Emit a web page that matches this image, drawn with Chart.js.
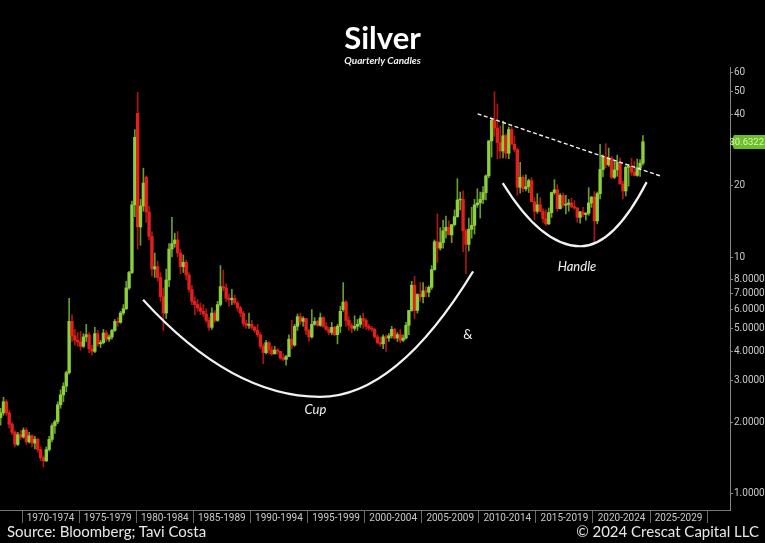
<!DOCTYPE html>
<html>
<head>
<meta charset="utf-8">
<script src="https://cdn.jsdelivr.net/npm/chart.js@4.4.1/dist/chart.umd.min.js"></script>
<style>
  html, body { margin: 0; padding: 0; background: #000; }
  #wrap { position: relative; width: 765px; height: 543px; background: #000; }
  .foot { position: absolute; color: #e8e8e8; font: 15px Lato, "Open Sans", sans-serif; top: 522px; }
  #src { left: 7px; }
  #copy { right: 6px; }
</style>
</head>
<body>
<div id="wrap">
  <canvas id="cnv"></canvas>
  <div class="foot" id="src">Source: Bloomberg; Tavi Costa</div>
  <div class="foot" id="copy">© 2024 Crescat Capital LLC</div>
</div>
<script>
// quarterly candles, first one is 1968 Q1
const startYear = 1968;

const open = [
  2.10, 2.20, 2.45, 2.20,   1.97, 1.82, 1.62, 1.78,   1.74, 1.86, 1.66, 1.76,   1.64, 1.70, 1.54, 1.42,
  1.38, 1.54, 1.70, 1.94,   2.02, 2.38, 2.62, 2.85,   3.25, 5.35, 4.65, 4.45,   4.38, 4.20, 4.60, 4.70,
  4.10, 4.00, 4.75, 4.30,   4.35, 4.78, 4.50, 4.60,   4.90, 5.35, 5.30, 5.80,   6.05, 7.40, 8.60, 16.60,
  40.40, 13.40, 16.40, 21.70,   15.50, 12.20, 8.90, 9.10,   8.20, 6.80, 5.80, 8.00,   10.80, 11.40, 11.80, 10.40,
  9.10, 9.50, 8.40, 7.30,   6.50, 6.30, 6.10, 5.90,   5.75, 5.40, 5.05, 5.80,   5.40, 6.30, 7.50, 7.40,
  6.70, 6.60, 6.70, 6.40,   6.10, 5.80, 5.25, 5.15,   5.20, 5.05, 4.90, 4.70,   4.20, 3.95, 4.35, 4.05,
  3.90, 4.05, 4.00, 3.75,   3.70, 3.80, 4.50, 4.25,   5.10, 5.60, 5.35, 5.50,   4.90, 4.60, 5.20, 5.35,
  5.15, 5.55, 5.10, 4.95,   4.80, 5.05, 4.70, 5.10,   6.00, 6.45, 5.40, 5.15,   5.00, 5.10, 5.20, 5.50,
  5.40, 5.10, 5.00, 4.95,   4.60, 4.35, 4.30, 4.60,   4.55, 4.65, 4.95, 4.55,   4.70, 4.45, 4.55, 5.15,
  5.95, 7.60, 5.95, 6.95,   6.80, 7.20, 7.10, 7.45,   8.85, 11.60, 10.90, 11.50,   12.90, 13.35, 12.40, 13.70,
  14.80, 17.40, 17.50, 12.90,   11.30, 13.10, 13.60, 16.60,   16.90, 17.50, 18.70, 22.00,   30.90, 37.80, 35.00, 30.40,
  28.00, 32.50, 27.40, 34.50,   29.90, 28.40, 19.70, 21.70,   19.40, 19.80, 21.00, 17.10,   15.60, 16.60, 15.60, 14.50,
  13.80, 15.40, 18.70, 19.20,   16.00, 18.20, 16.55, 16.65,   16.90, 16.30, 16.10, 14.70,   15.50, 15.10, 15.30, 16.90,
  17.90, 14.20, 18.50, 23.40,   26.40, 24.50, 26.10, 21.70,   23.30, 25.10, 20.30, 19.00,   23.90, 24.10, 22.80, 22.10,
  23.80, 24.90
];
const high = [
  2.30, 2.56, 2.50, 2.25,   2.00, 1.85, 1.82, 1.85,   1.90, 1.90, 1.82, 1.78,   1.75, 1.72, 1.58, 1.45,
  1.58, 1.75, 1.98, 2.05,   2.45, 2.75, 2.95, 3.30,   6.70, 5.70, 4.95, 4.80,   4.85, 4.75, 5.20, 4.80,
  4.25, 5.05, 4.90, 4.45,   4.95, 4.90, 4.70, 4.95,   5.45, 5.55, 5.90, 6.30,   7.90, 8.70, 17.20, 34.50,
  49.45, 17.50, 23.70, 22.00,   16.40, 12.80, 10.40, 9.60,   8.60, 7.40, 8.90, 11.40,   14.70, 12.60, 12.80, 10.80,
  10.20, 9.70, 8.60, 7.60,   6.80, 6.60, 6.40, 6.30,   6.05, 5.55, 6.10, 5.95,   6.50, 9.20, 8.80, 7.70,
  7.00, 7.30, 6.90, 6.50,   6.20, 5.90, 5.40, 5.80,   5.40, 5.10, 5.20, 4.80,   4.30, 4.45, 4.40, 4.20,
  4.20, 4.10, 4.00, 3.90,   3.85, 4.70, 5.40, 5.20,   5.75, 5.80, 5.60, 5.50,   4.95, 6.00, 5.55, 5.40,
  5.80, 5.60, 5.30, 5.05,   5.30, 5.10, 5.20, 6.20,   7.80, 6.55, 5.60, 5.25,   5.65, 5.45, 5.65, 5.80,
  5.50, 5.20, 5.10, 5.00,   4.70, 4.60, 4.70, 4.70,   4.75, 5.10, 5.00, 4.80,   4.95, 4.70, 5.30, 5.95,
  7.90, 8.30, 7.00, 7.80,   7.80, 7.50, 7.55, 9.20,   11.80, 15.20, 13.30, 14.30,   14.90, 14.20, 13.70, 15.80,
  21.40, 18.80, 19.00, 13.10,   14.60, 16.20, 17.50, 19.40,   18.80, 19.80, 22.20, 31.00,   38.20, 49.80, 44.20, 35.70,
  37.50, 33.00, 35.40, 35.40,   32.40, 28.80, 25.10, 22.10,   22.20, 21.30, 21.60, 17.80,   18.50, 17.80, 16.00, 15.80,
  16.10, 18.80, 21.20, 20.20,   18.50, 18.60, 18.20, 17.50,   17.70, 17.30, 16.20, 15.60,   16.20, 15.40, 19.60, 18.00,
  18.90, 18.80, 29.90, 27.00,   30.10, 28.80, 26.60, 25.40,   26.90, 26.20, 20.90, 24.30,   24.60, 26.10, 25.30, 25.90,
  25.80, 32.50
];
const low = [
  1.95, 2.15, 2.15, 1.90,   1.78, 1.58, 1.60, 1.70,   1.72, 1.62, 1.64, 1.58,   1.55, 1.50, 1.38, 1.30,
  1.37, 1.52, 1.66, 1.80,   1.98, 2.30, 2.45, 2.70,   3.20, 4.40, 4.25, 4.20,   4.05, 4.15, 4.40, 3.95,
  3.85, 3.95, 4.20, 4.15,   4.30, 4.40, 4.40, 4.50,   4.85, 5.10, 5.25, 5.70,   6.00, 7.30, 8.50, 14.80,
  10.80, 11.20, 15.60, 14.00,   11.80, 8.30, 8.20, 7.90,   6.50, 4.90, 5.50, 7.50,   10.00, 11.00, 10.00, 8.50,
  8.60, 8.00, 7.10, 6.30,   5.70, 5.90, 5.70, 5.60,   5.30, 4.90, 4.95, 5.30,   5.35, 6.20, 7.20, 6.50,
  6.20, 6.30, 6.30, 5.90,   5.60, 5.10, 5.00, 5.00,   4.95, 4.80, 4.60, 4.10,   3.55, 3.90, 3.90, 3.85,
  3.90, 3.90, 3.70, 3.65,   3.50, 3.80, 4.10, 4.20,   4.90, 5.20, 5.10, 4.70,   4.40, 4.55, 5.15, 5.10,
  5.10, 5.05, 4.90, 4.70,   4.70, 4.65, 4.30, 4.80,   5.90, 5.10, 4.90, 4.80,   4.90, 4.90, 5.05, 5.00,
  4.95, 4.90, 4.85, 4.55,   4.30, 4.20, 4.10, 4.00,   4.40, 4.55, 4.50, 4.40,   4.35, 4.40, 4.50, 4.70,
  5.90, 5.50, 5.80, 6.50,   6.40, 6.80, 6.80, 7.30,   8.80, 9.50, 10.70, 10.90,   12.00, 12.50, 11.50, 13.50,
  14.70, 15.80, 10.50, 8.50,   10.60, 12.00, 12.50, 16.20,   14.60, 16.80, 17.40, 21.60,   26.40, 32.30, 26.00, 26.10,
  26.20, 26.10, 26.00, 29.90,   27.80, 18.20, 18.60, 18.80,   19.00, 18.70, 17.10, 14.40,   15.30, 15.50, 14.00, 13.60,
  13.70, 14.70, 18.40, 15.60,   15.90, 16.20, 15.20, 15.60,   16.10, 15.90, 14.00, 13.90,   14.80, 14.30, 15.00, 16.20,
  11.60, 13.80, 17.60, 21.80,   23.80, 24.10, 21.40, 21.40,   21.90, 20.40, 17.60, 18.10,   19.90, 22.10, 22.00, 21.90,
  21.90, 24.40
];
const close = [
  2.20, 2.45, 2.20, 1.97,   1.82, 1.62, 1.78, 1.74,   1.86, 1.66, 1.76, 1.64,   1.70, 1.54, 1.42, 1.38,
  1.54, 1.70, 1.94, 2.02,   2.38, 2.62, 2.85, 3.25,   5.35, 4.65, 4.45, 4.38,   4.20, 4.60, 4.70, 4.10,
  4.00, 4.75, 4.30, 4.35,   4.78, 4.50, 4.60, 4.90,   5.35, 5.30, 5.80, 6.05,   7.40, 8.60, 16.60, 32.00,
  13.40, 16.40, 20.50, 15.50,   12.20, 8.90, 9.10, 8.20,   6.80, 5.80, 8.00, 10.80,   11.40, 11.80, 10.40, 9.10,
  9.50, 8.40, 7.30, 6.50,   6.30, 6.10, 5.90, 5.75,   5.40, 5.05, 5.80, 5.40,   6.30, 7.50, 7.40, 6.70,
  6.60, 6.70, 6.40, 6.10,   5.80, 5.25, 5.15, 5.20,   5.05, 4.90, 4.70, 4.20,   3.95, 4.35, 4.05, 3.90,
  4.05, 4.00, 3.75, 3.70,   3.80, 4.50, 4.25, 5.10,   5.60, 5.35, 5.50, 4.90,   4.60, 5.20, 5.35, 5.15,
  5.55, 5.10, 4.95, 4.80,   5.05, 4.70, 5.10, 5.90,   6.45, 5.40, 5.15, 5.00,   5.10, 5.20, 5.50, 5.40,
  5.10, 5.00, 4.95, 4.60,   4.35, 4.30, 4.60, 4.55,   4.65, 4.95, 4.55, 4.70,   4.45, 4.55, 5.15, 5.95,
  7.60, 5.95, 6.95, 6.80,   7.20, 7.10, 7.45, 8.85,   11.60, 10.90, 11.50, 12.90,   13.35, 12.40, 13.70, 14.80,
  17.40, 17.50, 12.90, 11.30,   13.10, 13.60, 16.60, 16.90,   17.50, 18.70, 22.00, 30.90,   37.80, 35.00, 30.40, 28.00,
  32.50, 27.40, 34.50, 29.90,   28.40, 19.70, 21.70, 19.40,   19.80, 21.00, 17.10, 15.60,   16.60, 15.60, 14.50, 13.80,
  15.40, 18.70, 19.20, 16.00,   18.20, 16.55, 16.65, 16.90,   16.30, 16.10, 14.70, 15.50,   15.10, 15.30, 16.90, 17.90,
  14.20, 18.50, 23.40, 26.40,   24.50, 26.10, 21.70, 23.30,   25.10, 20.30, 19.00, 23.90,   24.10, 22.80, 22.10, 23.80,
  24.90, 30.6322
];

// x axis: five-year buckets
const periodStarts = [1970, 1975, 1980, 1985, 1990, 1995, 2000, 2005, 2010, 2015, 2020, 2025];
const periodLabels = ['1970-1974', '1975-1979', '1980-1984', '1985-1989', '1990-1994', '1995-1999',
                      '2000-2004', '2005-2009', '2010-2014', '2015-2019', '2020-2024', '2025-2029'];
const priceTicks = [1, 2, 3, 4, 5, 6, 7, 8, 10, 20, 40, 50, 60];

// hand drawn pattern, in [year, price]
const cupArc = [[1980.6, 6.6], [1996.1, 2.57], [2009.5, 8.7]];
const handleArc = [[2012.1, 20.5], [2018.9, 11.1], [2024.7, 20.7]];
const resistance = [[2009.9, 40.2], [2026.0, 21.9]];
const notes = [['Cup', 1995.7, 2.26, true], ['&', 2009.05, 4.69, false], ['Handle', 2018.6, 9.08, true]];

const quarters = [];
for (let i = 0; i < close.length; i++) {
  quarters.push((startYear + Math.floor(i / 4)) + ' Q' + (i % 4 + 1));
}
const qx = q => Number(q.slice(0, 4)) + (Number(q.slice(6)) - 1) * 0.25 + 0.125;

const UP = '#8dd03c', DOWN = '#e3201b';
const colors = close.map((c, i) => c >= open[i] ? UP : DOWN);
const wickColors = close.map((c, i) => c >= open[i] ? 'rgba(141,208,60,0.75)' : 'rgba(227,32,27,0.75)');

const axisFont = { family: "'Liberation Sans Narrow', 'Roboto', sans-serif", size: 10 };

const overlay = {
  id: 'overlay',
  afterDatasetsDraw(chart) {
    const { ctx, scales: { x, y }, chartArea } = chart;
    const px = p => [x.getPixelForValue(p[0]), y.getPixelForValue(p[1])];
    ctx.save();
    ctx.beginPath();
    ctx.rect(chartArea.left, chartArea.top, chartArea.width, chartArea.height);
    ctx.clip();

    // arcs: two parabolic halves meeting at the bottom point
    ctx.strokeStyle = '#f2f2f2';
    ctx.lineWidth = 2.2;
    for (const arc of [cupArc, handleArc]) {
      const [a, b, c] = arc.map(px);
      ctx.beginPath();
      ctx.moveTo(a[0], a[1]);
      ctx.quadraticCurveTo((a[0] + b[0]) / 2, b[1], b[0], b[1]);
      ctx.quadraticCurveTo((b[0] + c[0]) / 2, b[1], c[0], c[1]);
      ctx.stroke();
    }

    const [r0, r1] = resistance.map(px);
    ctx.setLineDash([4, 2.5]);
    ctx.lineWidth = 1.4;
    ctx.beginPath();
    ctx.moveTo(r0[0], r0[1]);
    ctx.lineTo(r1[0], r1[1]);
    ctx.stroke();
    ctx.setLineDash([]);

    ctx.fillStyle = '#f2f2f2';
    ctx.textAlign = 'center';
    ctx.textBaseline = 'middle';
    for (const [txt, yr, val, it] of notes) {
      ctx.font = (it ? 'italic ' : '') + "13px Lato, 'Open Sans', sans-serif";
      ctx.fillText(txt, x.getPixelForValue(yr), y.getPixelForValue(val));
    }
    ctx.restore();
  },
  afterDraw(chart) {
    const { ctx, scales: { y }, chartArea } = chart;
    const last = close[close.length - 1];
    const yy = Math.round(y.getPixelForValue(last));
    ctx.save();
    ctx.fillStyle = '#6cbf2a';
    ctx.beginPath();
    ctx.moveTo(chartArea.right + 1, yy);
    ctx.lineTo(chartArea.right + 4, yy - 7);
    ctx.lineTo(chart.width, yy - 7);
    ctx.lineTo(chart.width, yy + 7);
    ctx.lineTo(chartArea.right + 4, yy + 7);
    ctx.closePath();
    ctx.fill();
    ctx.fillStyle = '#d8f5b8';
    ctx.font = '9.5px ' + axisFont.family;
    ctx.textAlign = 'right';
    ctx.textBaseline = 'middle';
    ctx.fillText(last.toFixed(4), chart.width - 1, yy + 0.5);
    ctx.restore();
  }
};

new Chart(document.getElementById('cnv'), {
  type: 'bar',
  data: {
    datasets: [
      {
        label: 'range',
        data: quarters.map((q, i) => ({ x: qx(q), y: [low[i], high[i]] })),
        backgroundColor: wickColors,
        barThickness: 1,
        grouped: false,
        order: 2
      },
      {
        label: 'body',
        data: quarters.map((q, i) => ({ x: qx(q), y: [open[i], close[i]] })),
        backgroundColor: colors,
        barThickness: 2.7,
        minBarLength: 1,
        grouped: false,
        order: 1
      }
    ]
  },
  options: {
    responsive: true,
    maintainAspectRatio: false,
    animation: false,
    devicePixelRatio: 1,
    layout: { padding: { left: 0, right: 0, top: 0, bottom: 19 } },
    plugins: {
      legend: { display: false },
      tooltip: { enabled: false },
      title: {
        display: true,
        text: 'Silver',
        color: '#ffffff',
        font: { family: "Lato, 'Open Sans', sans-serif", size: 31, weight: 'bold', lineHeight: 1 },
        padding: { top: 23, bottom: 0 }
      },
      subtitle: {
        display: true,
        text: 'Quarterly Candles',
        color: '#f0f0f0',
        font: { family: "Lato, 'Open Sans', sans-serif", size: 10, style: 'italic', weight: 'bold', lineHeight: 1.2 },
        padding: { top: 1, bottom: 0 }
      }
    },
    scales: {
      x: {
        type: 'linear',
        offset: false,
        min: 1968.07,
        max: 2032.0,
        afterBuildTicks: s => {
          const t = [];
          periodStarts.forEach(p => { t.push({ value: p }, { value: p + 2.5 }); });
          t.push({ value: 2030 });
          s.ticks = t;
        },
        afterFit: s => { s.height = 14; },
        ticks: {
          autoSkip: false,
          maxRotation: 0,
          padding: -11,
          color: '#c8c8c8',
          font: axisFont,
          callback: v => {
            const k = periodStarts.indexOf(v - 2.5);
            return k >= 0 ? periodLabels[k] : '';
          }
        },
        grid: {
          offset: false,
          drawOnChartArea: false,
          tickLength: 13,
          tickColor: c => (c.tick && c.tick.value % 5 === 0) ? '#6a6a6a' : 'rgba(0,0,0,0)'
        },
        border: { color: '#777' }
      },
      y: {
        type: 'logarithmic',
        position: 'right',
        min: 0.856,
        max: 63.35,
        afterBuildTicks: s => { s.ticks = priceTicks.map(v => ({ value: v })); },
        afterFit: s => { s.width = 35; },
        ticks: {
          autoSkip: false,
          padding: 1,
          color: '#c8c8c8',
          font: axisFont,
          callback: v => v < 10 ? Number(v).toFixed(4) : String(v)
        },
        grid: { drawOnChartArea: false, tickLength: 3, color: '#888' },
        border: { color: '#888' }
      }
    }
  },
  plugins: [overlay]
});
</script>
</body>
</html>
